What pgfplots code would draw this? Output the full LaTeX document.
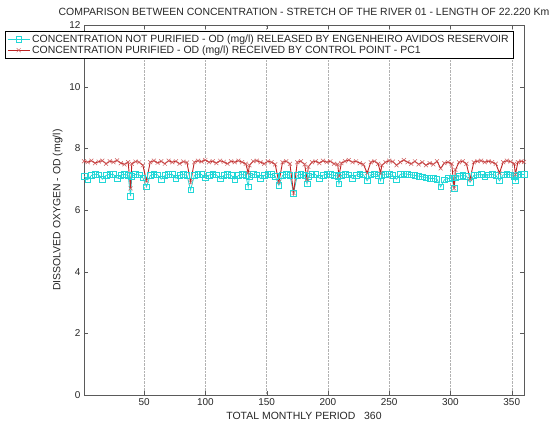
\documentclass[border=0pt]{standalone}
\usepackage{fontspec}
\setmainfont{Liberation Sans}
\usepackage{pgfplots}
\pgfplotsset{compat=1.18}
\definecolor{cyanm}{RGB}{35,215,215}
\definecolor{redm}{RGB}{190,35,35}
\definecolor{axgray}{RGB}{90,90,90}
\begin{document}
\begin{tikzpicture}
\path[use as bounding box] (0,0) rectangle (558bp,425bp);
\begin{axis}[
  at={(84bp,30bp)}, anchor=south west,
  scale only axis, width=440bp, height=370bp,
  xmin=1, xmax=360, ymin=0, ymax=12,
  enlargelimits=false,
  xtick={50,100,...,350}, ytick={0,2,...,12},
  xtick pos=both, ytick pos=both,
  tick align=inside, major tick length=4bp,
  xmajorgrids, grid style={densely dotted, gray!60},
  axis line style={axgray}, tick style={axgray},
  every tick label/.append style={font=\fontsize{10}{12}\selectfont, text=black!85},
  /pgf/number format/assume math mode=true,
  title={COMPARISON BETWEEN CONCENTRATION - STRETCH OF THE RIVER 01 - LENGTH OF 22.220 Km},
  title style={at={(0.5,1)}, anchor=base, yshift=3.5bp, font=\fontsize{10.5}{12}\selectfont, text=black!85},
  xlabel={TOTAL MONTHLY PERIOD\ \ \ 360},
  xlabel style={font=\fontsize{10.5}{12}\selectfont, text=black!85},
  ylabel={DISSOLVED OXYGEN - OD (mg/l)},
  ylabel style={font=\fontsize{10.5}{12}\selectfont, text=black!85},
  legend style={at={(-0.1795,0.984)}, anchor=north west, draw=black, fill=white,
    font=\fontsize{10.5}{12}\selectfont, text=black!85, inner xsep=2bp, inner ysep=1.5bp,
    row sep=-2bp, cells={anchor=west}},
  legend cell align=left,
  legend image code/.code={\draw[mark repeat=2,mark phase=2,#1] plot coordinates {(0bp,0bp) (11bp,0bp) (22bp,0bp)};},
]
\addplot[color=cyanm, line width=0.8pt, mark=square, mark size=2.8bp, mark options={line width=0.6pt}] table[row sep=\\] {
x y\\
1 7.10\\ 4 6.98\\ 7 7.12\\ 10 7.16\\ 13 7.14\\ 16 7.00\\ 19 7.12\\ 22 7.16\\ 25 7.15\\ 28 7.03\\
31 7.13\\ 34 7.16\\ 37 7.12\\ 39 6.45\\ 40 7.10\\ 43 7.15\\ 46 7.14\\ 49 7.05\\ 52 6.75\\ 55 7.12\\
58 7.16\\ 61 7.14\\ 64 7.00\\ 67 7.12\\ 70 7.16\\ 73 7.15\\ 76 7.03\\ 79 7.13\\ 82 7.16\\ 85 7.12\\
88 6.65\\ 91 7.12\\ 94 7.16\\ 97 7.15\\ 100 7.04\\ 103 7.13\\ 106 7.16\\ 109 7.14\\ 112 7.01\\ 115 7.12\\
118 7.16\\ 121 7.13\\ 124 7.00\\ 127 7.12\\ 130 7.16\\ 133 7.12\\ 135 6.75\\ 136 7.10\\ 139 7.15\\ 142 7.14\\
145 7.02\\ 148 7.12\\ 151 7.16\\ 154 7.15\\ 157 7.10\\ 160 6.80\\ 163 7.12\\ 166 7.16\\ 169 7.12\\ 172 6.55\\
175 7.12\\ 178 7.16\\ 181 7.12\\ 183 6.85\\ 184 7.10\\ 187 7.15\\ 190 7.15\\ 193 7.03\\ 196 7.13\\ 199 7.16\\
202 7.15\\ 205 7.12\\ 208 7.10\\ 209 6.85\\ 211 7.12\\ 214 7.16\\ 217 7.14\\ 220 7.02\\ 223 7.13\\ 226 7.17\\
229 7.14\\ 232 6.95\\ 235 7.14\\ 238 7.17\\ 241 7.13\\ 243 6.95\\ 244 7.12\\ 247 7.16\\ 250 7.17\\ 253 7.12\\
256 7.00\\ 259 7.15\\ 262 7.18\\ 265 7.16\\ 268 7.14\\ 271 7.12\\ 274 7.10\\ 277 7.08\\ 280 7.05\\ 283 7.03\\
286 7.02\\ 289 7.00\\ 292 6.75\\ 295 6.98\\ 298 7.02\\ 301 7.05\\ 303 6.70\\ 304 7.05\\ 307 7.10\\ 310 7.12\\
313 7.10\\ 316 6.90\\ 319 7.12\\ 322 7.14\\ 325 7.15\\ 328 7.08\\ 331 7.14\\ 334 7.16\\ 337 7.12\\ 340 6.95\\
343 7.14\\ 346 7.16\\ 349 7.14\\ 352 7.10\\ 353 6.95\\ 355 7.14\\ 358 7.16\\ 360 7.15\\
};
\addlegendentry{CONCENTRATION NOT PURIFIED - OD (mg/l) RELEASED BY ENGENHEIRO AVIDOS RESERVOIR}
\addplot[color=redm, line width=0.9pt, mark=x, mark size=2.8bp, mark options={line width=0.5pt, color=redm!75!white}] table[row sep=\\] {
x y\\
1 7.58\\ 4 7.55\\ 7 7.60\\ 10 7.52\\ 13 7.57\\ 16 7.60\\ 19 7.50\\ 22 7.58\\ 25 7.55\\ 28 7.61\\
31 7.52\\ 34 7.48\\ 37 7.55\\ 39 6.70\\ 40 7.50\\ 43 7.57\\ 46 7.55\\ 49 7.45\\ 52 6.95\\ 55 7.55\\
58 7.60\\ 61 7.53\\ 64 7.58\\ 67 7.50\\ 70 7.60\\ 73 7.55\\ 76 7.58\\ 79 7.50\\ 82 7.57\\ 85 7.54\\
88 6.90\\ 91 7.55\\ 94 7.60\\ 97 7.57\\ 100 7.62\\ 103 7.55\\ 106 7.58\\ 109 7.52\\ 112 7.60\\ 115 7.56\\
118 7.50\\ 121 7.58\\ 124 7.55\\ 127 7.60\\ 130 7.55\\ 133 7.50\\ 135 7.20\\ 136 7.45\\ 139 7.58\\ 142 7.60\\
145 7.55\\ 148 7.50\\ 151 7.58\\ 154 7.55\\ 157 7.48\\ 160 6.90\\ 163 7.55\\ 166 7.58\\ 169 7.50\\ 172 6.55\\
175 7.55\\ 178 7.58\\ 181 7.48\\ 183 7.00\\ 184 7.40\\ 187 7.55\\ 190 7.58\\ 193 7.52\\ 196 7.60\\ 199 7.55\\
202 7.58\\ 205 7.50\\ 208 7.48\\ 209 7.10\\ 211 7.52\\ 214 7.58\\ 217 7.62\\ 220 7.55\\ 223 7.58\\ 226 7.52\\
229 7.48\\ 232 7.20\\ 235 7.55\\ 238 7.58\\ 241 7.50\\ 243 7.20\\ 244 7.45\\ 247 7.55\\ 250 7.60\\ 253 7.57\\
256 7.45\\ 259 7.55\\ 262 7.62\\ 265 7.55\\ 268 7.50\\ 271 7.58\\ 274 7.48\\ 277 7.55\\ 280 7.45\\ 283 7.52\\
286 7.48\\ 289 7.58\\ 292 7.35\\ 295 7.52\\ 298 7.55\\ 301 7.50\\ 303 6.70\\ 304 7.30\\ 307 7.55\\ 310 7.58\\
313 7.50\\ 316 7.00\\ 319 7.55\\ 322 7.58\\ 325 7.60\\ 328 7.55\\ 331 7.58\\ 334 7.55\\ 337 7.50\\ 340 7.20\\
343 7.55\\ 346 7.60\\ 349 7.57\\ 352 7.50\\ 353 7.15\\ 355 7.55\\ 358 7.58\\ 360 7.56\\
};
\addlegendentry{CONCENTRATION PURIFIED - OD (mg/l) RECEIVED BY CONTROL POINT - PC1}
\end{axis}
\end{tikzpicture}
\end{document}
